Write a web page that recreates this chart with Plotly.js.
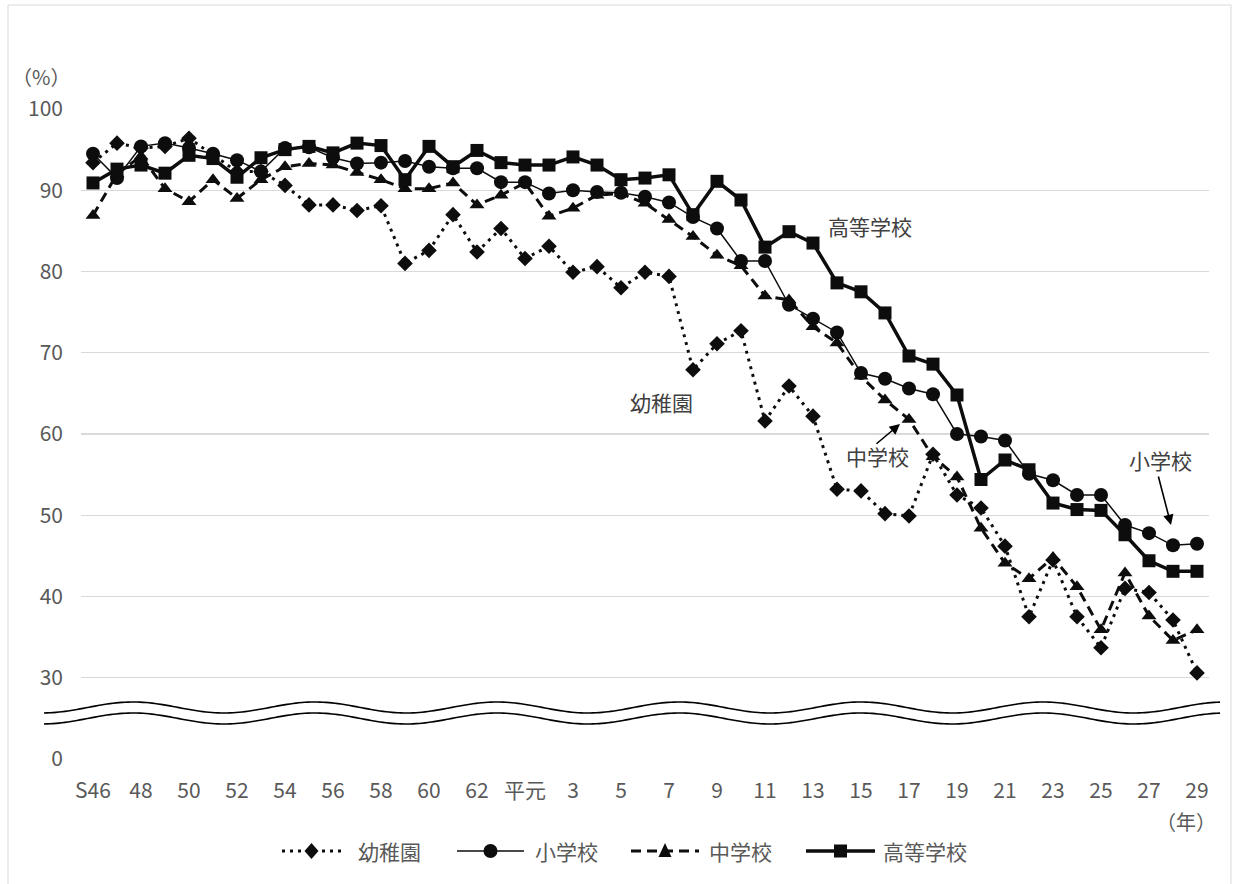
<!DOCTYPE html>
<html><head><meta charset="utf-8">
<script src="https://cdn.plot.ly/plotly-3.0.1.min.js"></script>
<style>html,body{margin:0;padding:0;background:#fff}#chart{width:1235px;height:884px}</style>
</head><body><div id="chart"></div>
<script>
// Categories (year labels): Showa 46 .. Heisei 29
const years = ['S46','47','48','49','50','51','52','53','54','55','56','57','58','59','60','61','62','63',
  '平元','2','3','4','5','6','7','8','9','10','11','12','13','14','15','16','17','18','19','20','21','22','23','24','25','26','27','28','29'];
const tickLabels = years.filter((_, i) => i % 2 === 0);

// Series values (%)
const kindergarten = [93.4,95.8,95.2,95.4,96.4,94.3,92.3,92.3,90.6,88.2,
  88.2,87.5,88.1,81.0,82.6,87.0,82.4,85.3,81.6,83.1,
  79.9,80.6,78.0,79.9,79.4,67.9,71.1,72.7,61.6,65.9,
  62.2,53.2,53.0,50.2,49.9,57.5,52.5,50.9,46.2,37.5,
  44.5,37.5,33.7,41.0,40.5,37.1,30.6];
const elementary = [94.5,91.5,95.4,95.8,95.2,94.5,93.7,92.3,95.2,95.3,
  94.0,93.3,93.4,93.6,92.9,92.7,92.7,91.0,91.0,89.6,
  90.0,89.8,89.7,89.2,88.5,86.7,85.3,81.3,81.3,75.9,
  74.2,72.5,67.5,66.8,65.6,64.9,60.0,59.7,59.2,55.1,
  54.3,52.5,52.5,48.8,47.8,46.3,46.5];
const juniorHigh = [86.9,92.0,94.2,90.2,88.6,91.3,89.0,91.3,92.9,93.3,
  93.1,92.2,91.3,90.2,90.2,90.9,88.2,89.4,90.9,86.8,
  87.8,89.4,89.6,88.4,86.4,84.3,82.0,80.7,77.0,76.5,
  73.2,71.2,67.1,64.2,61.8,57.2,54.7,48.4,44.1,42.2,
  44.8,41.2,35.9,42.9,37.6,34.6,35.9];
const highSchool = [90.9,92.6,93.1,92.1,94.3,93.9,91.6,94.0,95.0,95.4,
  94.6,95.8,95.5,91.3,95.4,92.9,94.9,93.4,93.1,93.1,
  94.1,93.1,91.3,91.5,91.9,87.0,91.1,88.8,83.0,84.9,
  83.5,78.6,77.5,74.9,69.6,68.6,64.8,54.4,56.8,55.6,
  51.5,50.7,50.6,47.6,44.4,43.1,43.1];

// y-axis: broken axis, "0" drawn at the 20 position
const yTickVals = [20,30,40,50,60,70,80,90,100];
const yTickText = ['0','30','40','50','60','70','80','90','100'];

const FONT = '"Noto Sans CJK JP", "Noto Sans", sans-serif';
const GRAY = '#595959';
const INK = '#0d0d0d';

const styles = [
  {name:'幼稚園', y: kindergarten, line:{color:INK, width:3, dash:'3px,5px'}, marker:{symbol:'diamond', size:12, color:INK}},
  {name:'小学校', y: elementary, line:{color:INK, width:1.5}, marker:{symbol:'circle', size:14, color:INK}},
  {name:'中学校', y: juniorHigh, line:{color:INK, width:3, dash:'10px,6px'}, marker:{symbol:'triangle-up', size:13, color:INK}},
  {name:'高等学校', y: highSchool, line:{color:INK, width:3.5}, marker:{symbol:'square', size:13, color:INK}}
];
const traces = styles.map(t => Object.assign({type:'scatter', mode:'lines+markers', x: years, showlegend:false}, t));

// plot-area geometry (px) for decorations
const L = 81, R = 1209, T = 109, B = 759;
const px2x = p => (p - L) / (R - L);
const px2y = p => (B - p) / (B - T);

// wavy axis-break decoration
function wave(offset) {
  let d = '';
  for (let p = 44; p <= 1221; p += 3) {
    const py = 707.5 + offset - 5.5 * Math.cos(2 * Math.PI * (p - 133) / 182);
    d += (d ? ' L' : 'M') + px2x(p).toFixed(5) + ',' + px2y(py).toFixed(5);
  }
  return d;
}

const shapes = [
  {type:'path', xref:'paper', yref:'paper', path: wave(0), line:{color:'#000', width:1.6}},
  {type:'path', xref:'paper', yref:'paper', path: wave(11), line:{color:'#000', width:1.6}},
  {type:'rect', xref:'paper', yref:'paper', x0:px2x(8), x1:px2x(1231), y0:px2y(5), y1:px2y(900),
   line:{color:'#d9d9d9', width:1}, fillcolor:'rgba(0,0,0,0)'}
];

const annotations = [];
const annFont = {family:FONT, size:21, color:'#404040'};
function label(text, px, py, font, xanchor) {
  annotations.push({text, xref:'paper', yref:'paper', x:px2x(px), y:px2y(py), showarrow:false,
    xanchor: xanchor || 'center', yanchor:'middle', font});
}
label('（%）', 41, 76, {family:FONT, size:20, color:GRAY});
label('（年）', 1186, 821, {family:FONT, size:20, color:GRAY});
label('高等学校', 870, 226, annFont);
label('幼稚園', 661, 402, annFont);
label('中学校', 877, 456, annFont);
label('小学校', 1160, 460, annFont);
annotations.push({text:'', xref:'paper', yref:'paper', x:px2x(900), y:px2y(424), ax:-25, ay:21, showarrow:true,
   arrowhead:2, arrowsize:1.3, arrowwidth:1.6, arrowcolor:'#000'});
annotations.push({text:'', xref:'paper', yref:'paper', x:px2x(1171), y:px2y(525), ax:-13, ay:-50, showarrow:true,
   arrowhead:2, arrowsize:1.3, arrowwidth:1.6, arrowcolor:'#000'});

// custom legend (key) below the chart
const LY = 851;
const legendPos = [
  {x0:282, x1:341, tx:356},
  {x0:457, x1:524, tx:533},
  {x0:631, x1:699, tx:707},
  {x0:806, x1:875, tx:881}
];
styles.forEach((s, i) => {
  const p = legendPos[i];
  shapes.push({type:'line', xref:'paper', yref:'paper', x0:px2x(p.x0), x1:px2x(p.x1), y0:px2y(LY), y1:px2y(LY),
    line:{color:INK, width:s.line.width, dash:s.line.dash || 'solid'}});
  const cx = (p.x0 + p.x1) / 2, r = 7;
  let mk;
  if (s.marker.symbol === 'circle') {
    mk = {type:'circle', x0:px2x(cx - r), x1:px2x(cx + r), y0:px2y(LY - r), y1:px2y(LY + r)};
  } else if (s.marker.symbol === 'square') {
    mk = {type:'rect', x0:px2x(cx - 6.5), x1:px2x(cx + 6.5), y0:px2y(LY - 6.5), y1:px2y(LY + 6.5)};
  } else if (s.marker.symbol === 'diamond') {
    mk = {type:'path', path:`M${px2x(cx)},${px2y(LY-8)} L${px2x(cx+7)},${px2y(LY)} L${px2x(cx)},${px2y(LY+8)} L${px2x(cx-7)},${px2y(LY)} Z`};
  } else {
    mk = {type:'path', path:`M${px2x(cx)},${px2y(LY-8)} L${px2x(cx+6.5)},${px2y(LY+6)} L${px2x(cx-6.5)},${px2y(LY+6)} Z`};
  }
  shapes.push(Object.assign({xref:'paper', yref:'paper', fillcolor:INK, line:{color:INK, width:0}}, mk));
  label(s.name, p.tx, LY, {family:FONT, size:21, color:GRAY}, 'left');
});

const layout = {
  width:1235, height:884,
  margin:{l:L, r:1235-R, t:T, b:884-B, pad:0},
  paper_bgcolor:'#fff', plot_bgcolor:'#fff',
  font:{family:FONT, size:21, color:GRAY},
  showlegend:false,
  xaxis:{type:'category', range:[-0.5, years.length - 0.5], tickmode:'array', tickvals:tickLabels, ticktext:tickLabels,
    showgrid:false, zeroline:false, showline:false, ticks:'', ticklabelstandoff:17,
    tickfont:{family:FONT, size:21, color:GRAY}, fixedrange:true},
  yaxis:{range:[20,100], tickmode:'array', tickvals:yTickVals, ticktext:yTickText,
    showgrid:true, gridcolor:'#d9d9d9', gridwidth:1.3, zeroline:false, showline:false, ticks:'',
    ticklabelstandoff:17, tickfont:{family:FONT, size:21, color:GRAY}, fixedrange:true},
  shapes: shapes,
  annotations: annotations
};

Plotly.newPlot('chart', traces, layout, {displayModeBar:false, staticPlot:true});
</script>
</body></html>
